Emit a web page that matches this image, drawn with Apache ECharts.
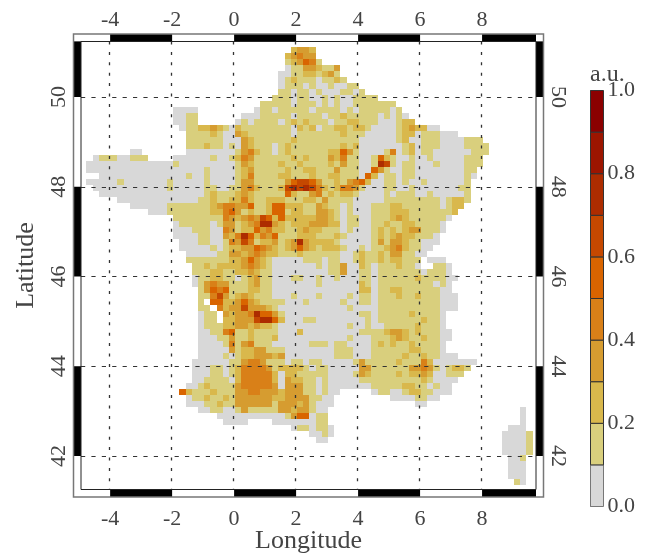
<!DOCTYPE html>
<html><head><meta charset="utf-8">
<style>html,body{margin:0;padding:0;background:#fff}#c{width:652px;height:553px}</style>
<script src="https://cdn.jsdelivr.net/npm/echarts@6/dist/echarts.min.js"></script>
</head><body><div id="c"></div>
<script>
// Raster. Each row: groups of ten columns split by "|"; "." = no data, digit = colour class.
var rasterRows = [
"|||",
"|||....2332",
"|||...23433",
"|||...123541",
"|||...0113321|13",
"|||..00112212|31",
"|||..01211101|121",
"|||..01110100|10011",
"|||..11011010|001101",
"|||.111011001|01001111",
"||.........1|1111011101|0100111111|1",
"|.....0000.|........01|1011111011|1101011111|01",
"|.....0011.|......0001|1111011110|1121111101|010",
"|.....0011.|.....01011|1101212111|0112211100|0122",
"|......0112|2321021111|1111021201|1221221000|01232200",
"|.......111|1210032111|1111011111|1121110000|0122011100|0",
"|.......111|1110003211|1111211111|1111100000|0120011100|00111",
"|.......111|2110103211|1012111111|1121200000|0012011100|001111",
"........00|.......000|0000013421|1012111111|2253100001|4012011000|000111",
"..01110011|1....00000|0100124311|1111212111|3241100152|1001001000|00111",
".000000000|0000010000|0000013211|1121121111|2131100176|1011000100|00111",
".000000000|0000000000|1000012311|1112112211|1311100531|0011000000|0011",
"...0000000|0000000100|1000012411|1122111211|2211105201|1011000000|0010",
".000001000|0000100000|1000013311|1113566531|1213452001|1010010000|001",
"..00000000|0000100000|1100113421|1126767642|1244310001|1001000000|011",
"...0000000|0000000000|1211123211|1115211341|2122100001|0111001000|001",
"......0000|0000000001|1211224211|2221112213|1111000001|1111111101|221",
"........00|0000111111|1234433511|2552221132|1101000111|2211111101|22",
"|.000111111|1224531211|2551221133|2101000111|2221111111|2",
"|.....11111|1114323436|5252222233|2101100111|2321111110",
"|.....01111|1013312347|7321222333|2201100112|112211110",
"|.....00011|1004312253|4221123221|1101000121|212331110",
"|.....00001|1003247524|3511122211|1210000121|23221110",
"|......0001|1001436412|2312373222|2100000131|33211000",
"|......0000|0101223354|3212353212|2210010112|3421100",
"|.......000|0011332343|2211121111|1100121121|331100",
"|.......111|1111223532|1000001110|1100121121|22111.000",
"|........11|2122223432|1000000010|1130021011|12110..110",
"|........11|1221122321|1000000000|1130011011|1111101110",
"|........01|1221101231|1000110010|0100011011|1111211110|0",
"|........01|3433111231|1000000010|0000021011|1111111010",
"|.........1|3545111221|1000000000|0000022011|2211111100",
"|.........1|1463123211|1000100010|0001011011|1211211100|0",
"|.........1|.552235321|1110001000|0010011011|1111111100|0",
"|.........1|1.42336333|2100000000|0001000011|1111111100|0",
"|.........0|11.3233475|5310000000|0000011011|111211110",
"|.........0|11.2233367|7520001100|0000001011|111112110",
"|.........0|1112233232|2100000000|0001001001|111121110",
"|.........0|0114511211|1100020000|0000011112|3321211100",
"|.........0|0011311211|1200000000|0001000111|2321121100",
"|.........0|0001413411|1000000111|0110000121|211211110",
"|.........0|0000312233|1110000000|0111000111|111221110",
"|.........0|0001012233|3230000000|0111000111|1121121100|0",
"|........00|0000113443|1110110110|0000131111|1211142000|0000",
"|........00|0110124444|3122221011|0000033111|1113343101|221",
"|........00|0110124444|4202211111|0000132111|1212232001|11",
"|........00|1111024444|4203221101|0000011111|1111121000|0",
"|.......001|2111134444|4303331101|0000000111|1122110100",
"|......5211|1211133443|3323331101|00.....011|0012211000",
"|.......011|2112133333|3223333110|0|00001100",
"|.......000|1121133333|3133323100|0|....00",
"|.........0|0110013111|1133233100||||.0",
"||..00000000|0001355011||||.0",
"||...0000|.000000011||||.0",
"|||....011011|0||.........0|00",
"|||.......001|0||........00|001",
"|||........00|||........00|001",
"||||||........00|001",
"||||||........00|001",
"||||||.........0|01",
"||||||.........0|00",
"||||||.........0|00",
"||||||.........0|00",
"|||||||10"
];
var lonTicks = [-4,-2,0,2,4,6,8];
var latTicks = [42,44,46,48,50];
var lonBlack = [[-4,-2],[0,2],[4,6],[8,9.74]];
var latBlack = [[51.24,50],[48,46],[44,42]];
var barLevels = [0,0.1,0.2,0.3,0.4,0.5,0.6,0.7,0.8,0.9];
var barColors = ['#d8d8d8','#d9cf7d','#d9b84c','#d69c30','#d98018','#d96400','#c54800','#ad2c00','#9c1500','#8b0000'];

var lonMin=-4.94, lonMax=9.74, latMin=41.253, latMax=51.237;
var originLon=-4.968, originLat=51.248, cellLon=0.2, cellLat=0.1337;
var FONT='"Liberation Serif"', TXT='#444';

var cells=[];
rasterRows.forEach(function(row,r){
  var s=row.split('|').map(function(g){return (g+'..........').slice(0,10);}).join('');
  for(var c=0;c<s.length;c++){ if(s[c]!=='.'){
    var lon=originLon+cellLon*c, lat=originLat-cellLat*r;
    cells.push([lon,lat,(+s[c])/10+0.05]);
  }}
});

function rect(x0,y0,x1,y1,fill){
  return {type:'rect',shape:{x:x0,y:y0,width:x1-x0,height:y1-y0},style:{fill:fill,stroke:null}};
}
var chart=echarts.init(document.getElementById('c'),null,{renderer:'canvas'});
var baseLabel={color:TXT,fontFamily:FONT,fontSize:22};
function hiddenBits(){return {axisLine:{show:false},axisTick:{show:false},splitLine:{show:false}};}
chart.setOption({
  animation:false,backgroundColor:'#fff',
  grid:[{left:81,top:41.5,width:455,height:448,outerBoundsMode:'none'},
        {left:590.5,top:90.5,width:13,height:416,outerBoundsMode:'none'}],
  xAxis:[
    Object.assign({type:'value',gridIndex:0,position:'bottom',min:lonMin,max:lonMax,name:'Longitude',nameLocation:'middle',nameGap:39,nameMoveOverlap:false,
      nameTextStyle:{color:TXT,fontFamily:FONT,fontSize:26},
      axisLabel:Object.assign({customValues:lonTicks,margin:19,formatter:function(v){return String(v);}},baseLabel)},hiddenBits()),
    Object.assign({type:'value',gridIndex:0,position:'top',min:lonMin,max:lonMax,
      axisLabel:Object.assign({customValues:lonTicks,margin:10,formatter:function(v){return String(v);}},baseLabel)},hiddenBits()),
    Object.assign({type:'value',gridIndex:1,min:0,max:1,axisLabel:{show:false}},hiddenBits())
  ],
  yAxis:[
    Object.assign({type:'value',gridIndex:0,position:'left',min:latMin,max:latMax,name:'Latitude',nameLocation:'middle',nameGap:42,nameRotate:90,nameMoveOverlap:false,
      nameTextStyle:{color:TXT,fontFamily:FONT,fontSize:26},
      axisLabel:Object.assign({customValues:latTicks,margin:22,rotate:90,align:'center',verticalAlign:'middle',formatter:function(v){return String(v);}},baseLabel)},hiddenBits()),
    Object.assign({type:'value',gridIndex:0,position:'right',min:latMin,max:latMax,
      axisLabel:Object.assign({customValues:latTicks,margin:22,rotate:-90,align:'center',verticalAlign:'middle',formatter:function(v){return String(v);}},baseLabel)},hiddenBits()),
    {type:'value',gridIndex:1,position:'right',min:0,max:1,interval:0.2,
      axisLine:{show:false},axisTick:{show:true,length:4,lineStyle:{color:'#222',width:1}},splitLine:{show:false},
      axisLabel:Object.assign({margin:4,formatter:function(v){return v.toFixed(1);}},baseLabel)}
  ],
  graphic:[{type:'text',left:590,top:63,style:{text:'a.u.',fill:TXT,font:'24px "Liberation Serif"'}}],
  series:[
    {type:'custom',xAxisIndex:0,yAxisIndex:0,z:2,data:cells,clip:false,silent:true,
      encode:{x:0,y:1},
      renderItem:function(p,api){
        var lon=api.value(0),lat=api.value(1),v=api.value(2);
        var a=api.coord([lon,lat]),b=api.coord([lon+cellLon,lat-cellLat]);
        return rect(Math.round(a[0]),Math.round(a[1]),Math.round(b[0]),Math.round(b[1]),barColors[Math.floor(v*10)]);
      }},
    {type:'custom',xAxisIndex:0,yAxisIndex:0,z:3,data:lonTicks.map(function(v){return [v];}),silent:true,encode:{x:0},
      renderItem:function(p,api){
        var v=api.value(0),a=api.coord([v,latMax]),b=api.coord([v,latMin]),x=Math.round(a[0])-0.5;
        return {type:'line',shape:{x1:x,y1:a[1],x2:x,y2:b[1]},style:{stroke:'#333',lineWidth:1.3,lineDash:[3,7.4]}};
      }},
    {type:'custom',xAxisIndex:0,yAxisIndex:0,z:3,data:latTicks.map(function(v){return [v];}),silent:true,encode:{y:0},
      renderItem:function(p,api){
        var v=api.value(0),a=api.coord([lonMin,v]),b=api.coord([lonMax,v]),y=Math.round(a[1])+0.5;
        return {type:'line',shape:{x1:a[0],y1:y,x2:b[0],y2:y},style:{stroke:'#333',lineWidth:1.2,lineDash:[4.2,6.2]}};
      }},
    {type:'custom',xAxisIndex:0,yAxisIndex:0,z:4,data:[[0,45]],clip:false,silent:true,encode:{x:0,y:1},
      renderItem:function(p,api){
        var tl=api.coord([lonMin,latMax]),br=api.coord([lonMax,latMin]),B=7.5,kids=[];
        lonBlack.forEach(function(s){
          var x0=api.coord([s[0],45])[0],x1=api.coord([s[1],45])[0];
          kids.push(rect(x0,tl[1]-B,x1,tl[1],'#000'));
          kids.push(rect(x0,br[1],x1,br[1]+B,'#000'));
        });
        latBlack.forEach(function(s){
          var y0=api.coord([0,s[0]])[1],y1=api.coord([0,s[1]])[1];
          kids.push(rect(tl[0]-B,y0,tl[0],y1,'#000'));
          kids.push(rect(br[0],y0,br[0]+B,y1,'#000'));
        });
        kids.push({type:'rect',shape:{x:tl[0]-B,y:tl[1]-B,width:br[0]-tl[0]+2*B,height:br[1]-tl[1]+2*B},style:{fill:null,stroke:'#777',lineWidth:1.5}});
        kids.push({type:'rect',shape:{x:tl[0],y:tl[1],width:br[0]-tl[0],height:br[1]-tl[1]},style:{fill:null,stroke:'#222',lineWidth:1}});
        return {type:'group',children:kids};
      }},
    {type:'custom',xAxisIndex:2,yAxisIndex:2,z:2,data:barLevels.map(function(v,i){return [v,i];}),silent:true,encode:{y:0},
      renderItem:function(p,api){
        var v=api.value(0),i=api.value(1),a=api.coord([0,v+0.1]),b=api.coord([1,v]);
        return {type:'rect',shape:{x:a[0],y:a[1],width:b[0]-a[0],height:b[1]-a[1]},
          style:{fill:barColors[i],stroke:i===0?'#777':'#333',lineWidth:1}};
      }}
  ]
});
</script></body></html>
